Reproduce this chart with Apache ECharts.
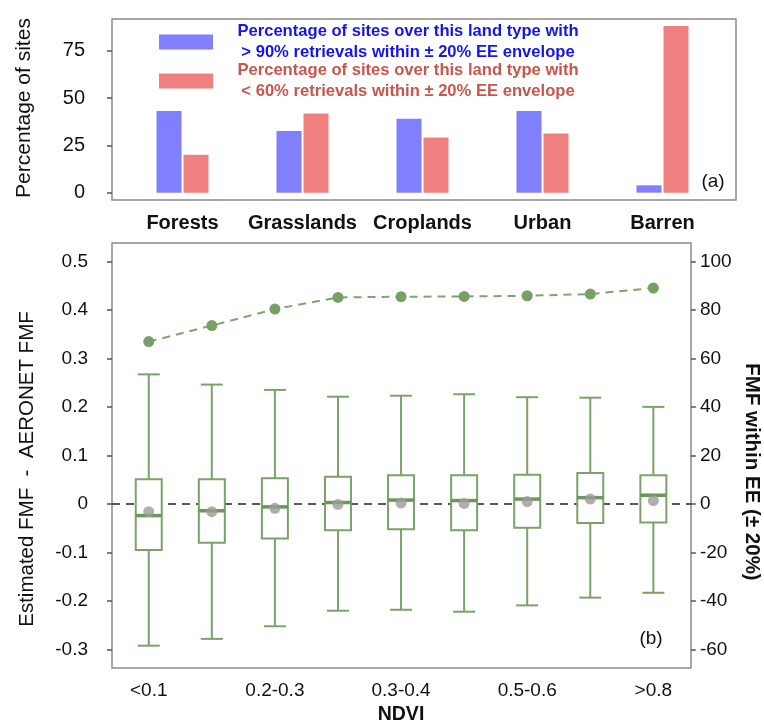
<!doctype html>
<html>
<head>
<meta charset="UTF-8">
<title>Land type sites and FMF vs NDVI</title>
<script src="https://cdn.jsdelivr.net/npm/echarts@6/dist/echarts.min.js"></script>
<style>
  body { margin: 0; background: #fff; }
  #main { width: 764px; height: 724px; }
</style>
</head>
<body>
<div id="main"></div>
<script>
// panel (a): land types
var landTypes = ['Forests', 'Grasslands', 'Croplands', 'Urban', 'Barren'];
var pctAbove90 = [43.2, 32.6, 39.1, 43.2, 3.9];
var pctBelow60 = [20.0, 41.8, 29.2, 31.3, 88.1];
var barTicks = [0, 25, 50, 75];

// panel (b): FMF difference by NDVI bin (only every other bin is labelled)
var ndviBins = ['<0.1', '0.1-0.2', '0.2-0.3', '0.25-0.35', '0.3-0.4', '0.4-0.5', '0.5-0.6', '0.6-0.8', '>0.8'];
var boxMin    = [-0.292, -0.278, -0.252, -0.220, -0.218, -0.222, -0.209, -0.193, -0.183];
var boxQ1     = [-0.095, -0.080, -0.071, -0.054, -0.052, -0.054, -0.049, -0.039, -0.038];
var boxMedian = [-0.024, -0.014, -0.006, 0.003, 0.008, 0.007, 0.010, 0.013, 0.018];
var boxQ3     = [0.051, 0.051, 0.053, 0.056, 0.059, 0.059, 0.060, 0.064, 0.059];
var boxMax    = [0.267, 0.246, 0.235, 0.221, 0.223, 0.226, 0.220, 0.219, 0.200];
var meanDiff  = [-0.016, -0.016, -0.009, -0.001, 0.002, 0.001, 0.005, 0.010, 0.007];
var pctWithinEE = [66.9, 73.5, 80.3, 85.1, 85.4, 85.5, 85.8, 86.5, 89.0];
var leftTicks  = [-0.3, -0.2, -0.1, 0, 0.1, 0.2, 0.3, 0.4, 0.5];
var rightTicks = [-60, -40, -20, 0, 20, 40, 60, 80, 100];

var FONT = "'Liberation Sans', Arial, Helvetica, sans-serif";
var GREEN = '#7ba26a';
var GREEN_DARK = '#6b9859';
var FRAME = '#8a8a8a';
var nameBlue = 'Percentage of sites over this land type with\n> 90% retrievals within \u00b1 20% EE envelope';
var nameRed = 'Percentage of sites over this land type with\n< 60% retrievals within \u00b1 20% EE envelope';

var boxData = ndviBins.map(function (b, i) {
    return [i, boxMin[i], boxQ1[i], boxMedian[i], boxQ3[i], boxMax[i]];
});

function renderBox(params, api) {
    var i = api.value(0);
    var cx = api.coord([i, 0])[0];
    var y = function (d) { return api.coord([i, api.value(d)])[1]; };
    var yMin = y(1), yQ1 = y(2), yMed = y(3), yQ3 = y(4), yMax = y(5);
    var hw = 13, cw = 11;
    var st = { stroke: GREEN, lineWidth: 2, fill: null };
    return {
        type: 'group',
        children: [
            { type: 'line', shape: { x1: cx, y1: yQ3, x2: cx, y2: yMax }, style: st },
            { type: 'line', shape: { x1: cx - cw, y1: yMax, x2: cx + cw, y2: yMax }, style: st },
            { type: 'line', shape: { x1: cx, y1: yQ1, x2: cx, y2: yMin }, style: st },
            { type: 'line', shape: { x1: cx - cw, y1: yMin, x2: cx + cw, y2: yMin }, style: st },
            { type: 'rect', shape: { x: cx - hw, y: yQ3, width: 2 * hw, height: yQ1 - yQ3 },
              style: { fill: '#fff', stroke: GREEN, lineWidth: 2 } },
            { type: 'line', shape: { x1: cx - hw, y1: yMed, x2: cx + hw, y2: yMed },
              style: { stroke: GREEN_DARK, lineWidth: 3.5 } }
        ]
    };
}

var myChart = echarts.init(document.getElementById('main'));

var option = {
    animation: false,
    textStyle: { fontFamily: FONT },
    grid: [
        // frame of panel (a)
        { left: 112, top: 19, width: 624, height: 181, show: true, borderColor: FRAME, borderWidth: 1.5 },
        // bars of panel (a)
        { left: 122.5, top: 19, width: 600, height: 181 },
        // frame of panel (b)
        { left: 112, top: 243, width: 579, height: 425, show: true, borderColor: FRAME, borderWidth: 1.5 },
        // boxes of panel (b)
        { left: 117.2, top: 243, width: 567.7, height: 425 }
    ],
    xAxis: [
        { gridIndex: 0, type: 'value', min: 0, max: 1, show: false },
        {
            gridIndex: 1, type: 'category', data: landTypes,
            axisLine: { show: false },
            axisTick: { alignWithLabel: true, interval: 0, length: 6, lineStyle: { color: FRAME, width: 1.5 } },
            axisLabel: { interval: 0, margin: 13, fontSize: 20, fontWeight: 'bold', color: '#111' }
        },
        { gridIndex: 2, type: 'value', min: 0, max: 1, show: false },
        {
            gridIndex: 3, type: 'category', data: ndviBins,
            axisLine: { show: false },
            axisTick: { alignWithLabel: true, interval: 0, length: 5, lineStyle: { color: '#555', width: 1.5 } },
            axisLabel: { interval: 1, margin: 13, fontSize: 19, color: '#111' }
        }
    ],
    yAxis: [
        { gridIndex: 0, type: 'value', min: 0, max: 1, show: false },
        {
            gridIndex: 1, type: 'value', min: -3.86, max: 91.76, offset: 10.5,
            splitLine: { show: false },
            axisLine: { show: false },
            axisTick: { show: true, length: 5, customValues: barTicks, lineStyle: { color: '#555', width: 1.5 } },
            axisLabel: { customValues: barTicks, margin: 27, fontSize: 20, color: '#111' }
        },
        { gridIndex: 2, type: 'value', min: -0.338, max: 0.5377, show: false },
        {
            gridIndex: 3, type: 'value', min: -0.338, max: 0.5377, offset: 5.2,
            splitLine: { show: false },
            axisLine: { show: false },
            axisTick: { show: true, length: 5, customValues: leftTicks, lineStyle: { color: '#555', width: 1.5 } },
            axisLabel: { customValues: leftTicks, margin: 24, fontSize: 19, color: '#111' }
        },
        {
            gridIndex: 3, type: 'value', position: 'right', min: -67.6, max: 107.54, offset: 6,
            splitLine: { show: false },
            axisLine: { show: false },
            axisTick: { show: true, length: 5, customValues: rightTicks, lineStyle: { color: '#555', width: 1.5 } },
            axisLabel: { customValues: rightTicks, margin: 9, fontSize: 19, color: '#111' }
        }
    ],
    legend: {
        orient: 'vertical', left: 159, top: 23, padding: 0,
        itemWidth: 54, itemHeight: 15, itemGap: 1,
        icon: 'rect', selectedMode: false,
        data: [nameBlue, nameRed],
        formatter: function (name) {
            var k = name === nameBlue ? 'b' : 'r';
            return name.split('\n').map(function (s) { return '{' + k + '|' + s + '}'; }).join('\n');
        },
        textStyle: {
            rich: {
                b: { width: 380, align: 'center', fontSize: 16.6, fontWeight: 'bold', lineHeight: 21, color: '#1414f0', fontFamily: FONT },
                r: { width: 380, align: 'center', fontSize: 16.6, fontWeight: 'bold', lineHeight: 21, color: '#c8564c', fontFamily: FONT }
            }
        }
    },
    graphic: [
        { type: 'text', x: 24, y: 108, rotation: Math.PI / 2,
          style: { text: 'Percentage of sites', fontSize: 21, fontFamily: FONT, fill: '#111', align: 'center', verticalAlign: 'middle' } },
        { type: 'text', x: 27.5, y: 469, rotation: Math.PI / 2,
          style: { text: 'Estimated FMF  -  AERONET FMF', fontSize: 20.5, fontFamily: FONT, fill: '#111', align: 'center', verticalAlign: 'middle' } },
        { type: 'text', x: 752, y: 472, rotation: -Math.PI / 2,
          style: { text: 'FMF within EE (\u00b1 20%)', fontSize: 20.5, fontWeight: 'bold', fontFamily: FONT, fill: '#111', align: 'center', verticalAlign: 'middle' } },
        { type: 'text', x: 401, y: 715,
          style: { text: 'NDVI', fontSize: 19.5, fontWeight: 'bold', fontFamily: FONT, fill: '#111', align: 'center', verticalAlign: 'middle' } },
        { type: 'text', x: 713, y: 182,
          style: { text: '(a)', fontSize: 19, fontFamily: FONT, fill: '#111', align: 'center', verticalAlign: 'middle' } },
        { type: 'text', x: 651, y: 639,
          style: { text: '(b)', fontSize: 19, fontFamily: FONT, fill: '#111', align: 'center', verticalAlign: 'middle' } }
    ],
    series: [
        {
            name: nameBlue, type: 'bar', xAxisIndex: 1, yAxisIndex: 1,
            data: pctAbove90, barWidth: 25, barGap: '8%',
            itemStyle: { color: '#8080ff' }
        },
        {
            name: nameRed, type: 'bar', xAxisIndex: 1, yAxisIndex: 1,
            data: pctBelow60, barWidth: 25, barGap: '8%',
            itemStyle: { color: '#f08080' }
        },
        {
            // zero reference line across the whole frame
            type: 'line', xAxisIndex: 2, yAxisIndex: 2, data: [], silent: true,
            markLine: {
                z: 1, silent: true, symbol: 'none', label: { show: false },
                lineStyle: { color: '#222', width: 1.6, type: [8, 6] },
                data: [{ yAxis: 0 }]
            }
        },
        {
            type: 'custom', xAxisIndex: 3, yAxisIndex: 3, z: 3,
            renderItem: renderBox, data: boxData,
            encode: { x: 0, y: [1, 2, 3, 4, 5] }
        },
        {
            type: 'scatter', xAxisIndex: 3, yAxisIndex: 3, z: 5,
            data: meanDiff, symbolSize: 11,
            itemStyle: { color: '#9b9b9b' }
        },
        {
            type: 'line', xAxisIndex: 3, yAxisIndex: 4, z: 6,
            data: pctWithinEE, symbol: 'circle', symbolSize: 11, showSymbol: true,
            itemStyle: { color: '#789f66' },
            lineStyle: { color: '#7fa56e', width: 2, type: [8, 6] }
        }
    ]
};

myChart.setOption(option);
</script>
</body>
</html>
